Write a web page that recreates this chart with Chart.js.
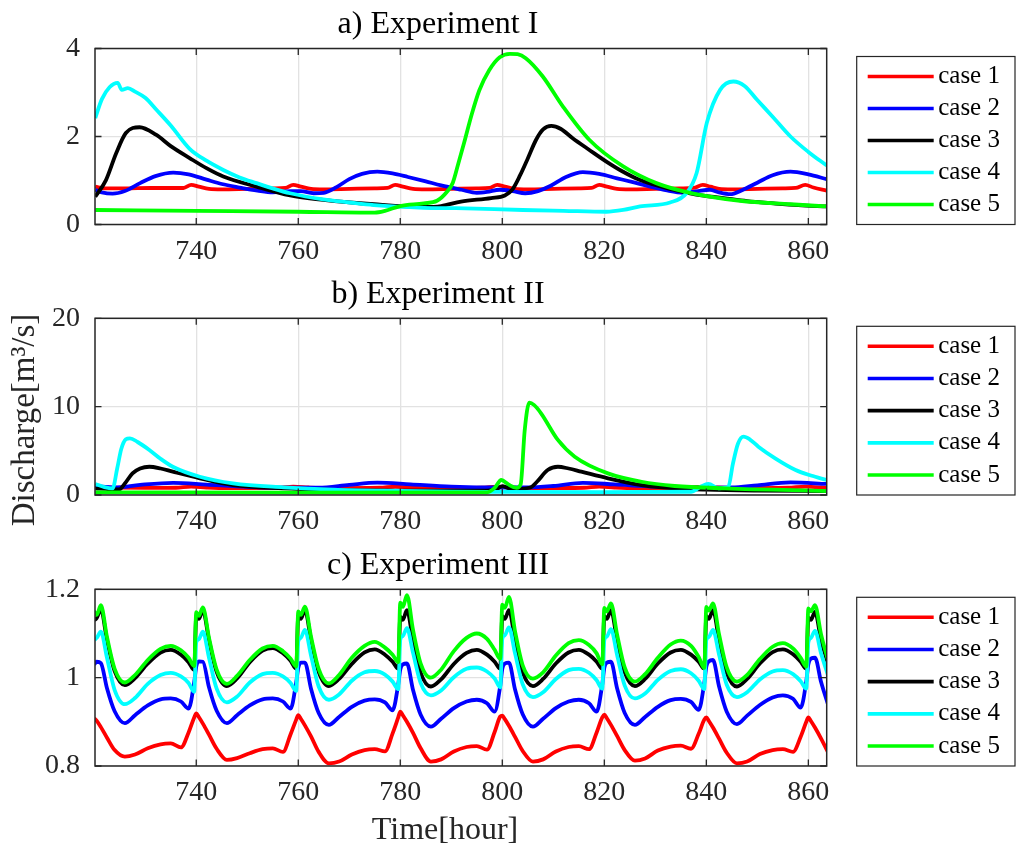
<!DOCTYPE html>
<html>
<head>
<meta charset="utf-8">
<script src="https://cdn.jsdelivr.net/npm/chart.js@4.4.1/dist/chart.umd.min.js"></script>
<style>
  html, body { margin: 0; padding: 0; background: #fff; }
  #wrap { position: relative; width: 1019px; height: 847px; overflow: hidden; background: #fff; }
  #wrap canvas { position: absolute; left: 0; }
</style>
</head>
<body>
<div id="wrap">
  <canvas id="panelA" width="1019" height="270" style="top:0px"></canvas>
  <canvas id="panelB" width="1019" height="270" style="top:270px"></canvas>
  <canvas id="panelC" width="1019" height="307" style="top:540px"></canvas>
</div>
<script>
// ---------- shared labels ----------
const caseNames  = ['case 1', 'case 2', 'case 3', 'case 4', 'case 5'];
const caseColors = ['#ff0000', '#0000ff', '#000000', '#00ffff', '#00ff00'];
const timeTicks  = [740, 760, 780, 800, 820, 840, 860];
const yTicksA = [0, 2, 4];
const yTicksB = [0, 10, 20];
const yTicksC = [0.8, 1, 1.2];

// ---------- a) Experiment I : discharge [m3/s] vs time [hour] ----------
const tA1 = [720.2, 722, 726, 731, 735.5, 737.5, 739, 740.5, 742.5, 745, 750, 755, 757.5, 759, 760.5, 762.5, 765, 770, 775, 777.5, 779, 780.5, 782.5, 785, 790, 795, 797.5, 799, 800.5, 802.5, 805, 810, 815, 817.5, 819, 820.5, 822.5, 825, 830, 835, 837.5, 839.3, 840.8, 842.5, 845, 850, 855, 857.5, 859.4, 861, 863.6];
const qA1 = [0.86, 0.82, 0.82, 0.83, 0.83, 0.83, 0.90, 0.86, 0.81, 0.80, 0.81, 0.82, 0.83, 0.90, 0.86, 0.81, 0.80, 0.81, 0.82, 0.83, 0.90, 0.86, 0.81, 0.80, 0.81, 0.82, 0.83, 0.90, 0.86, 0.81, 0.80, 0.81, 0.82, 0.83, 0.90, 0.86, 0.81, 0.80, 0.81, 0.82, 0.83, 0.90, 0.86, 0.81, 0.80, 0.81, 0.82, 0.83, 0.90, 0.84, 0.77];

const tA2 = [720.2, 721.5, 723.6, 726, 729, 732, 735.5, 738.5, 742, 745, 748.5, 752, 755, 758.5, 760.5, 763, 765, 767.5, 770, 772.5, 775.5, 778.5, 781.5, 785, 788, 792, 795, 797, 799.5, 802, 804.5, 807, 809.5, 812.5, 815.8, 819, 822.5, 826, 829, 832, 835.5, 838, 840.7, 842.5, 844.7, 847, 850, 853, 856.5, 860, 863.6];
const qA2 = [0.79, 0.73, 0.70, 0.76, 0.94, 1.10, 1.18, 1.14, 1.02, 0.92, 0.84, 0.77, 0.73, 0.76, 0.76, 0.71, 0.72, 0.85, 1.03, 1.15, 1.20, 1.16, 1.08, 0.98, 0.89, 0.79, 0.72, 0.74, 0.79, 0.76, 0.71, 0.76, 0.88, 1.08, 1.19, 1.15, 1.05, 0.95, 0.86, 0.78, 0.72, 0.75, 0.79, 0.73, 0.69, 0.78, 0.95, 1.12, 1.20, 1.14, 1.03];

const tA3 = [720.2, 722.3, 724.3, 726.2, 728.9, 732.1, 735, 738.7, 742, 745.3, 751.8, 758.4, 764.9, 774.8, 784.6, 788, 791.9, 797.8, 800.5, 802, 803.5, 805, 806.6, 808, 809.6, 811.5, 813.8, 817, 820.4, 823.5, 827, 833.5, 838, 843.4, 848, 853.2, 858, 863.6];
const qA3 = [0.63, 1.01, 1.62, 2.08, 2.21, 2.04, 1.78, 1.51, 1.28, 1.09, 0.86, 0.66, 0.56, 0.46, 0.40, 0.42, 0.52, 0.60, 0.66, 0.80, 1.12, 1.50, 1.92, 2.16, 2.24, 2.17, 1.96, 1.70, 1.43, 1.21, 1.01, 0.79, 0.68, 0.60, 0.53, 0.48, 0.44, 0.41];

const tA4 = [720.2, 721.5, 723, 724.6, 725.4, 726.6, 728, 730, 732.1, 735, 738.7, 742, 745.3, 748.5, 751.8, 755, 758.4, 764.9, 770, 774.8, 784.6, 790.9, 804, 812, 820.4, 823.7, 827, 832.9, 836.1, 838.1, 840.1, 842.7, 845.3, 847.5, 849.9, 853, 856.5, 860, 863.6];
const qA4 = [2.42, 2.85, 3.12, 3.22, 3.06, 3.10, 3.02, 2.88, 2.62, 2.25, 1.72, 1.45, 1.24, 1.07, 0.94, 0.82, 0.71, 0.57, 0.50, 0.44, 0.38, 0.37, 0.33, 0.31, 0.29, 0.33, 0.41, 0.50, 0.71, 1.17, 2.31, 3.06, 3.25, 3.15, 2.84, 2.45, 2.00, 1.65, 1.34];

const tA5 = [720.2, 740, 760, 775, 777, 780, 784.6, 787.2, 789.2, 790.3, 791.3, 792.5, 794, 795.5, 797.4, 799.5, 801.5, 803, 804.6, 807.9, 811.9, 817.1, 823.7, 830.2, 836.8, 846.6, 856.5, 863.6];
const qA5 = [0.33, 0.31, 0.29, 0.27, 0.31, 0.42, 0.48, 0.54, 0.75, 0.95, 1.35, 1.85, 2.50, 3.05, 3.50, 3.80, 3.88, 3.87, 3.78, 3.37, 2.68, 1.92, 1.32, 0.94, 0.72, 0.54, 0.46, 0.41];

// ---------- b) Experiment II ----------
const tB1 = [720.2, 730, 736, 739, 742, 746, 756, 759, 762, 766, 776, 779, 782, 786, 796, 799, 802, 806, 816, 819, 822, 826, 836, 839.4, 842, 846, 856, 859.4, 863.6];
const qB1 = [0.85, 0.80, 0.82, 0.95, 0.85, 0.78, 0.82, 0.95, 0.85, 0.78, 0.82, 0.95, 0.85, 0.78, 0.82, 0.95, 0.85, 0.78, 0.82, 0.95, 0.85, 0.78, 0.82, 0.95, 0.85, 0.78, 0.82, 0.95, 0.80];

const tB2 = [720.2, 724, 729, 735.5, 742, 750, 758, 764, 770, 775.5, 782, 790, 800, 805, 810, 815.8, 822, 830, 838, 845, 850, 856.5, 863.6];
const qB2 = [1.00, 0.85, 1.15, 1.38, 1.18, 0.92, 0.82, 0.82, 1.15, 1.40, 1.20, 0.95, 0.85, 0.85, 1.02, 1.38, 1.20, 0.95, 0.82, 0.85, 1.10, 1.42, 1.25];

const tB3 = [720.2, 723, 724.9, 726, 727.5, 729, 730.8, 733, 735.4, 740.7, 747.2, 757, 765, 780, 797, 799, 800, 801.3, 803, 805.5, 806.8, 808.9, 810.9, 813, 815.5, 820.7, 827.3, 833.8, 840, 850, 863.6];
const qB3 = [0.75, 0.65, 0.64, 1.30, 2.45, 3.00, 3.20, 3.00, 2.64, 1.89, 1.13, 0.75, 0.60, 0.50, 0.50, 0.70, 1.00, 0.75, 0.70, 0.85, 1.50, 2.83, 3.20, 3.00, 2.64, 1.89, 1.13, 0.75, 0.60, 0.50, 0.45];

const tB4 = [720.2, 722, 723.6, 724.5, 725.3, 726.2, 727, 728.5, 730.8, 733, 735.4, 740.7, 747.2, 757.1, 766.9, 780, 790, 800, 820, 837, 838.8, 840.4, 842.4, 844.3, 845.2, 846.2, 847.3, 848.5, 850.2, 853.5, 857.5, 860.5, 863.6];
const qB4 = [1.25, 0.90, 0.75, 3.00, 5.20, 6.30, 6.42, 6.00, 5.10, 4.10, 3.20, 2.07, 1.32, 0.87, 0.60, 0.45, 0.37, 0.35, 0.33, 0.37, 0.90, 1.25, 0.76, 0.90, 3.50, 5.80, 6.60, 6.30, 5.47, 4.15, 2.83, 2.20, 1.70];

const tB5 = [720.2, 760, 797, 798.5, 799.8, 801.2, 802.8, 803.6, 804.4, 805.3, 806.2, 807.6, 810.9, 814.2, 820.7, 827.3, 833.8, 843.7, 863.6];
const qB5 = [0.30, 0.28, 0.30, 0.80, 1.70, 1.20, 0.80, 1.20, 7.36, 10.45, 10.20, 9.25, 6.23, 4.34, 2.45, 1.50, 1.02, 0.75, 0.45];

// ---------- c) Experiment III (all cases share one time base) ----------
const tC = [
  720, 720.5, 721.3, 722.5, 724, 726, 728, 730.5, 733, 735, 737, 738.5, 739.6,
  740, 740.5, 741.3, 742.5, 744, 746, 748, 750.5, 753, 755, 757, 758.5, 759.6,
  760, 760.5, 761.3, 762.5, 764, 766, 768, 770.5, 773, 775, 777, 778.5, 779.6,
  780, 780.5, 781.3, 782.5, 784, 786, 788, 790.5, 793, 795, 797, 798.5, 799.6,
  800, 800.5, 801.3, 802.5, 804, 806, 808, 810.5, 813, 815, 817, 818.5, 819.6,
  820, 820.5, 821.3, 822.5, 824, 826, 828, 830.5, 833, 835, 837, 838.5, 839.6,
  840, 840.5, 841.3, 842.5, 844, 846, 848, 850.5, 853, 855, 857, 858.5, 859.6,
  860, 860.5, 861.3, 862.5, 864
];
const qC1 = [
  0.908, 0.902, 0.888, 0.864, 0.836, 0.821, 0.826, 0.840, 0.849, 0.851, 0.842, 0.876, 0.910,
  0.919, 0.911, 0.896, 0.871, 0.839, 0.814, 0.818, 0.829, 0.838, 0.840, 0.832, 0.872, 0.905,
  0.915, 0.907, 0.892, 0.867, 0.832, 0.806, 0.810, 0.826, 0.836, 0.838, 0.833, 0.874, 0.910,
  0.923, 0.915, 0.900, 0.875, 0.840, 0.810, 0.815, 0.833, 0.843, 0.845, 0.837, 0.877, 0.912,
  0.914, 0.906, 0.891, 0.866, 0.834, 0.810, 0.815, 0.833, 0.843, 0.845, 0.838, 0.876, 0.910,
  0.916, 0.908, 0.893, 0.868, 0.836, 0.812, 0.817, 0.835, 0.844, 0.846, 0.839, 0.873, 0.905,
  0.910, 0.902, 0.887, 0.862, 0.830, 0.806, 0.810, 0.827, 0.836, 0.838, 0.832, 0.866, 0.900,
  0.910, 0.902, 0.887, 0.862, 0.828
];
const qC2 = [
  1.030, 1.036, 1.033, 0.976, 0.924, 0.897, 0.915, 0.937, 0.951, 0.953, 0.946, 0.930, 0.990,
  1.025, 1.037, 1.036, 0.978, 0.925, 0.897, 0.915, 0.937, 0.951, 0.953, 0.946, 0.930, 0.990,
  1.022, 1.034, 1.034, 0.975, 0.920, 0.893, 0.911, 0.934, 0.948, 0.951, 0.944, 0.926, 0.985,
  1.018, 1.030, 1.032, 0.972, 0.916, 0.889, 0.907, 0.931, 0.946, 0.950, 0.942, 0.923, 0.982,
  1.020, 1.032, 1.034, 0.973, 0.917, 0.889, 0.907, 0.931, 0.946, 0.950, 0.942, 0.923, 0.985,
  1.022, 1.034, 1.036, 0.976, 0.920, 0.893, 0.911, 0.934, 0.949, 0.952, 0.945, 0.927, 0.988,
  1.025, 1.037, 1.040, 0.980, 0.923, 0.895, 0.914, 0.938, 0.955, 0.960, 0.952, 0.932, 0.992,
  1.030, 1.043, 1.045, 0.990, 0.934
];
const qC3 = [
  1.130, 1.135, 1.155, 1.085, 1.015, 0.983, 0.999, 1.032, 1.057, 1.063, 1.052, 1.035, 1.017,
  1.140, 1.133, 1.152, 1.085, 1.013, 0.981, 0.998, 1.035, 1.061, 1.067, 1.055, 1.038, 1.020,
  1.140, 1.133, 1.153, 1.086, 1.013, 0.981, 0.997, 1.031, 1.057, 1.064, 1.052, 1.036, 1.020,
  1.138, 1.131, 1.153, 1.084, 1.011, 0.980, 0.996, 1.031, 1.056, 1.063, 1.052, 1.036, 1.020,
  1.140, 1.133, 1.153, 1.085, 1.012, 0.981, 0.997, 1.032, 1.057, 1.063, 1.052, 1.036, 1.020,
  1.140, 1.133, 1.153, 1.085, 1.012, 0.981, 0.997, 1.032, 1.057, 1.063, 1.052, 1.036, 1.020,
  1.140, 1.133, 1.153, 1.085, 1.011, 0.980, 0.997, 1.032, 1.058, 1.064, 1.053, 1.036, 1.020,
  1.136, 1.131, 1.149, 1.085, 1.026
];
const qC4 = [
  1.085, 1.090, 1.104, 1.045, 0.972, 0.940, 0.954, 0.986, 1.006, 1.011, 1.003, 0.988, 0.968,
  1.080, 1.087, 1.104, 1.045, 0.975, 0.944, 0.957, 0.989, 1.008, 1.011, 1.003, 0.988, 0.970,
  1.082, 1.090, 1.108, 1.050, 0.980, 0.950, 0.962, 0.993, 1.012, 1.015, 1.007, 0.991, 0.974,
  1.086, 1.094, 1.112, 1.056, 0.988, 0.960, 0.971, 1.001, 1.020, 1.023, 1.014, 0.998, 0.978,
  1.088, 1.096, 1.114, 1.055, 0.985, 0.956, 0.967, 0.997, 1.017, 1.020, 1.011, 0.994, 0.975,
  1.085, 1.093, 1.110, 1.052, 0.982, 0.953, 0.964, 0.995, 1.015, 1.019, 1.010, 0.993, 0.974,
  1.085, 1.092, 1.108, 1.052, 0.984, 0.956, 0.967, 0.996, 1.014, 1.017, 1.008, 0.992, 0.975,
  1.080, 1.090, 1.106, 1.055, 1.000
];
const qC5 = [
  1.150, 1.142, 1.164, 1.092, 1.020, 0.989, 1.006, 1.040, 1.065, 1.072, 1.062, 1.045, 1.026,
  1.148, 1.140, 1.159, 1.090, 1.018, 0.986, 1.004, 1.040, 1.066, 1.072, 1.060, 1.043, 1.025,
  1.150, 1.142, 1.161, 1.093, 1.020, 0.987, 1.006, 1.045, 1.072, 1.081, 1.068, 1.052, 1.035,
  1.170, 1.160, 1.187, 1.108, 1.032, 1.000, 1.018, 1.060, 1.090, 1.100, 1.088, 1.063, 1.042,
  1.165, 1.158, 1.183, 1.105, 1.028, 0.998, 1.012, 1.050, 1.078, 1.085, 1.074, 1.055, 1.030,
  1.158, 1.150, 1.168, 1.098, 1.023, 0.991, 1.008, 1.045, 1.075, 1.084, 1.072, 1.047, 1.022,
  1.160, 1.152, 1.168, 1.098, 1.023, 0.991, 1.006, 1.042, 1.070, 1.078, 1.066, 1.045, 1.025,
  1.157, 1.150, 1.164, 1.098, 1.033
];

// ---------- styling ----------
const SERIF = '"Liberation Serif", "Times New Roman", Times, serif';
const INK = '#262626';
const GRID = '#e2e2e2';
const PLOT_LEFT = 95;          // width reserved for the y axis
const PLOT_RIGHT_GAP = 192.3;  // room for the boxed legend

// Draws the axes box, inward tick marks, panel title, boxed legend and axis titles.
const panelFrame = {
  id: 'panelFrame',
  afterDraw(chart, args, o) {
    const { ctx, chartArea: a } = chart;
    const xs = chart.scales.x, ys = chart.scales.y;
    ctx.save();

    // inward tick marks on all four sides
    ctx.strokeStyle = INK;
    ctx.lineWidth = 1.3;
    ctx.beginPath();
    xs.ticks.forEach(t => {
      const p = xs.getPixelForValue(t.value);
      ctx.moveTo(p, a.bottom); ctx.lineTo(p, a.bottom - 6.5);
      ctx.moveTo(p, a.top);    ctx.lineTo(p, a.top + 6.5);
    });
    ys.ticks.forEach(t => {
      const p = ys.getPixelForValue(t.value);
      ctx.moveTo(a.left, p);  ctx.lineTo(a.left + 6.5, p);
      ctx.moveTo(a.right, p); ctx.lineTo(a.right - 6.5, p);
    });
    ctx.stroke();

    // axes box
    ctx.lineWidth = 1.5;
    ctx.strokeRect(a.left, a.top, a.right - a.left, a.bottom - a.top);

    // panel title
    ctx.fillStyle = '#000';
    ctx.font = '32px ' + SERIF;
    ctx.textAlign = 'center';
    ctx.textBaseline = 'middle';
    ctx.fillText(o.title, o.titleX, a.top - 24);

    // legend box to the right of the plot
    const lg = o.legend;
    const top = a.top + 8, bottom = a.bottom;
    ctx.strokeStyle = INK;
    ctx.lineWidth = 1.2;
    ctx.strokeRect(lg.left, top, lg.right - lg.left, bottom - top);
    const sets = chart.data.datasets;
    const step = (bottom - top - 40) / (sets.length - 1);
    ctx.font = '25px ' + SERIF;
    ctx.textAlign = 'left';
    sets.forEach((d, i) => {
      const yy = top + 20 + i * step;
      ctx.strokeStyle = d.borderColor;
      ctx.lineWidth = 3.6;
      ctx.beginPath();
      ctx.moveTo(lg.left + 11, yy);
      ctx.lineTo(lg.left + 77, yy);
      ctx.stroke();
      ctx.fillStyle = '#000';
      ctx.fillText(d.label, lg.left + 81.5, yy);
    });

    // axis titles
    ctx.fillStyle = INK;
    ctx.textAlign = 'center';
    ctx.textBaseline = 'middle';
    if (o.yTitle) {
      ctx.font = '33px ' + SERIF;
      ctx.save();
      ctx.translate(o.yTitle.x, o.yTitle.y);
      ctx.rotate(-Math.PI / 2);
      ctx.fillText(o.yTitle.text, 0, 0);
      ctx.restore();
    }
    if (o.xTitle) {
      ctx.font = '32px ' + SERIF;
      ctx.fillText(o.xTitle.text, o.xTitle.x, o.xTitle.y);
    }
    ctx.restore();
  }
};

function buildPanel(canvasId, times, values, yTicks, cfg) {
  const datasets = caseNames.map((name, i) => ({
    label: name,
    data: times[i].map((t, k) => ({ x: t, y: values[i][k] })),
    borderColor: caseColors[i],
    backgroundColor: caseColors[i],
    borderWidth: 3.8,
    pointRadius: 0,
    fill: false,
    cubicInterpolationMode: 'monotone',
    order: caseNames.length - i   // case 5 ends up drawn on top
  }));
  return new Chart(document.getElementById(canvasId), {
    type: 'line',
    data: { datasets },
    options: {
      responsive: false,
      animation: false,
      devicePixelRatio: 1,
      events: [],
      layout: { padding: { top: cfg.padTop, right: PLOT_RIGHT_GAP, bottom: 0, left: 0 } },
      plugins: {
        legend: { display: false },
        tooltip: { enabled: false },
        title: { display: false },
        panelFrame: {
          title: cfg.title,
          titleX: 438,
          legend: { left: 856.7, right: 1015 },
          yTitle: cfg.yTitle,
          xTitle: cfg.xTitle
        }
      },
      scales: {
        x: {
          type: 'linear',
          min: 720.15,
          max: 863.6,
          afterBuildTicks: s => { s.ticks = timeTicks.map(v => ({ value: v })); },
          afterFit: s => { s.height = cfg.xHeight; },
          grid: { color: GRID, lineWidth: 1.3, drawTicks: false },
          border: { display: false },
          ticks: {
            color: INK,
            font: { family: SERIF, size: 28 },
            padding: 10,
            maxRotation: 0,
            autoSkip: false,
            callback: v => String(v)
          }
        },
        y: {
          type: 'linear',
          min: yTicks[0],
          max: yTicks[yTicks.length - 1],
          afterBuildTicks: s => { s.ticks = yTicks.map(v => ({ value: v })); },
          afterFit: s => { s.width = PLOT_LEFT; },
          grid: { color: GRID, lineWidth: 1.3, drawTicks: false },
          border: { display: false },
          ticks: {
            color: INK,
            font: { family: SERIF, size: 28 },
            padding: 15,
            autoSkip: false,
            callback: v => String(v)
          }
        }
      }
    },
    plugins: [panelFrame]
  });
}

buildPanel('panelA', [tA1, tA2, tA3, tA4, tA5], [qA1, qA2, qA3, qA4, qA5], yTicksA, {
  title: 'a) Experiment I', padTop: 48.5, xHeight: 45.5
});
buildPanel('panelB', [tB1, tB2, tB3, tB4, tB5], [qB1, qB2, qB3, qB4, qB5], yTicksB, {
  title: 'b) Experiment II', padTop: 48.3, xHeight: 45,
  yTitle: { text: 'Discharge[m\u00B3/s]', x: 25, y: 150 }
});
buildPanel('panelC', [tC, tC, tC, tC, tC], [qC1, qC2, qC3, qC4, qC5], yTicksC, {
  title: 'c) Experiment III', padTop: 49.3, xHeight: 81,
  xTitle: { text: 'Time[hour]', x: 445, y: 291 }
});
</script>
</body>
</html>
